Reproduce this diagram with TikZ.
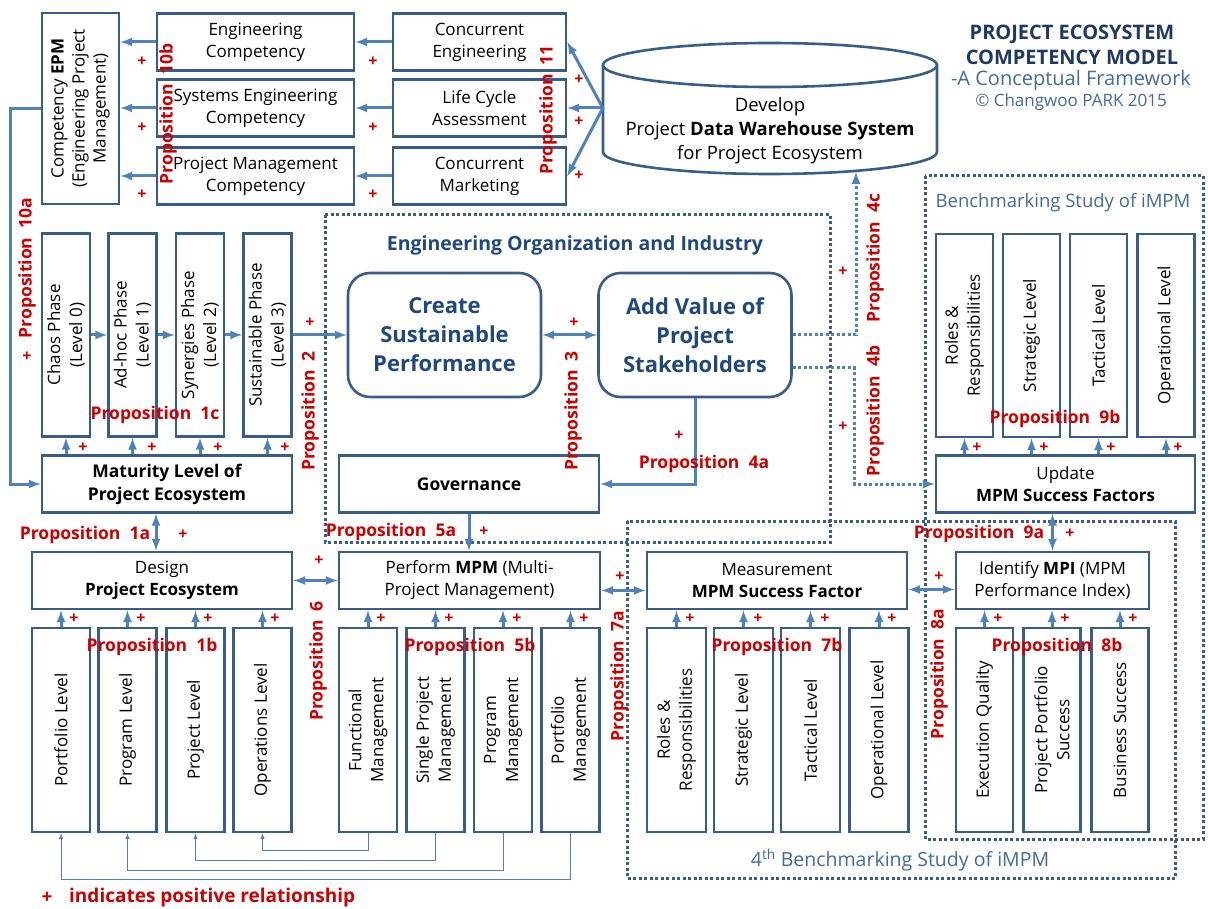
\documentclass[tikz,border=0pt]{standalone}
\usepackage{fontspec}
\setmainfont{Open Sans}
\usetikzlibrary{calc}

\definecolor{boxblue}{RGB}{56,93,138}
\definecolor{arrblue}{RGB}{79,129,189}
\definecolor{propred}{RGB}{204,0,0}
\definecolor{titleblue}{RGB}{31,56,100}
\definecolor{orgblue}{RGB}{31,73,125}
\definecolor{benchblue}{RGB}{68,105,158}

\tikzset{
  box/.style={draw=boxblue, line width=2.6pt, fill=white, align=center, inner sep=1pt,
    font=\fontsize{17}{22}\selectfont},
  topbox/.style={box, minimum height=57pt},
  widebox/.style={box, minimum width=260pt, minimum height=57pt},
  vbox/.style={box, rotate=90},
  rbox/.style={box, rounded corners=22pt, minimum width=193pt, minimum height=124pt,
    text=orgblue, font=\bfseries\fontsize{22}{29}\selectfont},
  prop/.style={text=propred, font=\bfseries\fontsize{17.5}{20}\selectfont, inner sep=0pt},
  plus/.style={text=propred, font=\bfseries\fontsize{16}{16}\selectfont, inner sep=0pt},
  arr/.style={draw=arrblue, line width=3pt, -latex},
  darr/.style={draw=arrblue, line width=3pt, latex-latex},
  fbline/.style={draw=arrblue, line width=0.9pt, -latex},
  dotline/.style={draw=boxblue, line width=3pt, dash pattern=on 3pt off 2.5pt},
  dotarr/.style={draw=arrblue, line width=3pt, dash pattern=on 3pt off 2.5pt, -latex},
}

\begin{document}
\begin{tikzpicture}[x=1pt,y=-1pt]
    \useasboundingbox (0,0) rectangle (1208,909);

    \draw[dotline] (325,215) rectangle (830,542);
    \draw[dotline] (925,176) rectangle (1203,839);
    \draw[dotline] (627,521) rectangle (1175,878);

    \node[vbox, minimum width=191pt, minimum height=77pt, font=\fontsize{17}{21}\selectfont] at (80.5,108.5) (epm) {Competency \textbf{EPM}\\(Engineering Project\\Management)};
    \node[topbox, minimum width=197pt] at (255.5,42) (engcomp) {Engineering\\Competency};
    \node[topbox, minimum width=197pt] at (255.5,108) (secomp) {Systems Engineering\\Competency};
    \node[topbox, minimum width=197pt] at (255.5,176) (pmcomp) {Project Management\\Competency};
    \node[topbox, minimum width=173pt] at (479.5,42) (conceng) {Concurrent\\Engineering};
    \node[topbox, minimum width=173pt] at (479.5,108) (lca) {Life Cycle\\Assessment};
    \node[topbox, minimum width=173pt] at (479.5,176) (concmkt) {Concurrent\\Marketing};
    \node[minimum width=334pt, minimum height=131pt] at (770,108) (dws) {};
    \draw[draw=boxblue, line width=2.6pt, fill=white] (603,65) -- (603,152)
      arc[start angle=180, end angle=360, x radius=167pt, y radius=22pt] -- (937,65);
    \draw[draw=boxblue, line width=2.6pt, fill=white] (770,65) ellipse [x radius=167pt, y radius=22pt];
    \node[align=center, font=\fontsize{18.5}{24}\selectfont] at (770,131) (dwstext) {Develop\\Project \textbf{Data Warehouse System}\\for Project Ecosystem};
    \coordinate (dwsfoot) at (856,172);

    \node[align=center, text=titleblue, font=\bfseries\fontsize{20}{25}\selectfont] at (1072,44.5) (title) {PROJECT ECOSYSTEM\\COMPETENCY MODEL};
    \node[text=benchblue, font=\fontsize{20}{22}\selectfont] at (1071,80) (subtitle) {-A Conceptual Framework};
    \node[text=benchblue, font=\fontsize{17}{19}\selectfont] at (1071,102) (credit) {\textcopyright\ Changwoo PARK 2015};

    \node[vbox, minimum width=203pt, minimum height=48pt] at (66,335) (chaos) {Chaos Phase\\(Level 0)};
    \node[vbox, minimum width=203pt, minimum height=48pt] at (132.5,335) (adhoc) {Ad-hoc Phase\\(Level 1)};
    \node[vbox, minimum width=203pt, minimum height=48pt] at (200,335) (synergy) {Synergies Phase\\(Level 2)};
    \node[vbox, minimum width=203pt, minimum height=48pt] at (267.5,335) (sustain) {Sustainable Phase\\(Level 3)};
    \node[widebox, minimum width=250pt, font=\bfseries\fontsize{17.5}{23}\selectfont] at (167,484) (mat) {Maturity Level of\\Project Ecosystem};

    \node[font=\bfseries\fontsize{19.5}{22}\selectfont, text=orgblue] at (575,245) (orgtitle) {Engineering Organization and Industry};
    \node[rbox] at (444.5,335) (csp) {Create\\Sustainable\\Performance};
    \node[rbox] at (695,335) (avps) {Add Value of\\Project\\Stakeholders};
    \node[widebox, font=\bfseries\fontsize{17.5}{22}\selectfont] at (469,484) (gov) {Governance};

    \node[text=benchblue, font=\fontsize{18.5}{21}\selectfont] at (1063,203) (benchtitle) {Benchmarking Study of iMPM};
    \node[vbox, minimum width=203pt, minimum height=57pt] at (964.5,335.5) (roles1) {Roles \&\\Responsibilities};
    \node[vbox, minimum width=203pt, minimum height=57pt] at (1031.5,335.5) (strat1) {Strategic Level};
    \node[vbox, minimum width=203pt, minimum height=57pt] at (1098.5,335.5) (tact1) {Tactical Level};
    \node[vbox, minimum width=203pt, minimum height=57pt] at (1166,335.5) (oper1) {Operational Level};
    \node[widebox, minimum width=259pt] at (1065.5,484) (upd) {Update\\\textbf{MPM Success Factors}};

    \node[widebox] at (162,580.5) (design) {Design\\\textbf{Project Ecosystem}};
    \node[vbox, minimum width=204pt, minimum height=58pt] at (61,730) (pfl) {Portfolio Level};
    \node[vbox, minimum width=204pt, minimum height=58pt] at (127.5,730) (prgl) {Program Level};
    \node[vbox, minimum width=204pt, minimum height=58pt] at (195.5,730) (prjl) {Project Level};
    \node[vbox, minimum width=204pt, minimum height=58pt] at (262.5,730) (opsl) {Operations Level};

    \node[widebox, minimum width=261pt] at (469.5,580.5) (mpm) {Perform \textbf{MPM} (Multi-\\Project Management)};
    \node[vbox, minimum width=204pt, minimum height=58pt] at (368,730) (fm) {Functional\\Management};
    \node[vbox, minimum width=204pt, minimum height=58pt] at (435.5,730) (spm) {Single Project\\Management};
    \node[vbox, minimum width=204pt, minimum height=58pt] at (503,730) (pgm) {Program\\Management};
    \node[vbox, minimum width=204pt, minimum height=58pt] at (570.5,730) (pfm) {Portfolio\\Management};

    \node[widebox] at (777,580.5) (meas) {Measurement\\\textbf{MPM Success Factor}};
    \node[vbox, minimum width=204pt, minimum height=59pt] at (676.5,730) (roles2) {Roles \&\\Responsibilities};
    \node[vbox, minimum width=204pt, minimum height=59pt] at (743.5,730) (strat2) {Strategic Level};
    \node[vbox, minimum width=204pt, minimum height=59pt] at (810.5,730) (tact2) {Tactical Level};
    \node[vbox, minimum width=204pt, minimum height=59pt] at (879,730) (oper2) {Operational Level};

    \node[widebox, minimum width=193pt] at (1052.5,580.5) (mpi) {Identify \textbf{MPI} (MPM\\Performance Index)};
    \node[vbox, minimum width=204pt, minimum height=57pt] at (984.5,730) (eq) {Execution Quality};
    \node[vbox, minimum width=204pt, minimum height=57pt] at (1052,730) (pps) {Project Portfolio\\Success};
    \node[vbox, minimum width=204pt, minimum height=57pt] at (1120,730) (bs) {Business Success};
    \node[text=benchblue, font=\fontsize{19.5}{22}\selectfont] at (900,860) (bench4) {4\textsuperscript{th} Benchmarking Study of iMPM};

    \draw[arr] (conceng.west) -- (engcomp.east);
    \draw[arr] (lca.west) -- (secomp.east);
    \draw[arr] (concmkt.west) -- (pmcomp.east);
    \draw[arr] (engcomp.west) -- (engcomp.west -| epm.south);
    \draw[arr] (secomp.west) -- (secomp.west -| epm.south);
    \draw[arr] (pmcomp.west) -- (pmcomp.west -| epm.south);
    \draw[arr] (dws.west) -- (conceng.east);
    \draw[arr] (dws.west) -- (lca.east);
    \draw[arr] (dws.west) -- (concmkt.east);
    \draw[arr] (epm.north) -- ++(-30,0) |- (mat.west);

    \draw[arr] (chaos.south) -- (adhoc.north);
    \draw[arr] (adhoc.south) -- (synergy.north);
    \draw[arr] (synergy.south) -- (sustain.north);
    \draw[arr] (mat.north -| chaos.west) -- (chaos.west);
    \draw[arr] (mat.north -| adhoc.west) -- (adhoc.west);
    \draw[arr] (mat.north -| synergy.west) -- (synergy.west);
    \draw[arr] (mat.north -| sustain.west) -- (sustain.west);
    \draw[arr] (sustain.south) -- (sustain.south -| csp.west);
    \draw[darr] (csp.east) -- (avps.west);
    \draw[arr] (avps.south) |- (gov.east);
    \draw[arr] (gov.south) -- (gov.south |- mpm.north);
    \draw[dotarr] (avps.east) -| (dwsfoot);
    \draw[dotarr] ($(avps.east)+(0,33)$) -| ($(upd.west)+(-80,0)$) -- (upd.west);

    \draw[arr] (upd.north -| roles1.west) -- (roles1.west);
    \draw[arr] (upd.north -| strat1.west) -- (strat1.west);
    \draw[arr] (upd.north -| tact1.west) -- (tact1.west);
    \draw[arr] (upd.north -| oper1.west) -- (oper1.west);
    \draw[darr] (upd.south -| mpi.north) -- (mpi.north);

    \draw[darr] ([xshift=-11pt]mat.south) -- ([xshift=-11pt]mat.south |- design.north);
    \draw[darr] (design.east) -- (mpm.west);
    \draw[darr] ([yshift=-10pt]mpm.east) -- ([yshift=-10pt]meas.west);
    \draw[darr] ([yshift=-9pt]meas.east) -- ([yshift=-9pt]mpi.west);

    \draw[arr] (pfl.east) -- (pfl.east |- design.south);
    \draw[arr] (prgl.east) -- (prgl.east |- design.south);
    \draw[arr] (prjl.east) -- (prjl.east |- design.south);
    \draw[arr] (opsl.east) -- (opsl.east |- design.south);
    \draw[arr] (fm.east) -- (fm.east |- mpm.south);
    \draw[arr] (spm.east) -- (spm.east |- mpm.south);
    \draw[arr] (pgm.east) -- (pgm.east |- mpm.south);
    \draw[arr] (pfm.east) -- (pfm.east |- mpm.south);
    \draw[arr] (roles2.east) -- (roles2.east |- meas.south);
    \draw[arr] (strat2.east) -- (strat2.east |- meas.south);
    \draw[arr] (tact2.east) -- (tact2.east |- meas.south);
    \draw[arr] (oper2.east) -- (oper2.east |- meas.south);
    \draw[arr] (eq.east) -- (eq.east |- mpi.south);
    \draw[arr] (pps.east) -- (pps.east |- mpi.south);
    \draw[arr] (bs.east) -- (bs.east |- mpi.south);

    \draw[fbline] (fm.west) -- ++(0,17) -| (opsl.west);
    \draw[fbline] (spm.west) -- ++(0,27) -| (prjl.west);
    \draw[fbline] (pgm.west) -- ++(0,37) -| (prgl.west);
    \draw[fbline] (pfm.west) -- ++(0,46) -| (pfl.west);

    \node[prop, rotate=90] at (27,268) (p10a) {Proposition~~10a};
    \node[prop, rotate=90] at (168,114) (p10b) {Proposition~~10b};
    \node[prop, rotate=90] at (548,110) (p11) {Proposition~~11};
    \node[prop] at (155,415) (p1c) {Proposition~~1c};
    \node[prop, rotate=90] at (310,411) (p2) {Proposition~~2};
    \node[prop, rotate=90] at (573,411) (p3) {Proposition~~3};
    \node[prop] at (704,464) (p4a) {Proposition~~4a};
    \node[prop, rotate=90] at (875,258) (p4c) {Proposition~~4c};
    \node[prop, rotate=90] at (875,411) (p4b) {Proposition~~4b};
    \node[prop] at (1055,419) (p9b) {Proposition~~9b};
    \node[prop] at (85,535) (p1a) {Proposition~~1a};
    \node[prop] at (391,532) (p5a) {Proposition~~5a};
    \node[prop] at (979,534) (p9a) {Proposition~~9a};
    \node[prop] at (152,647) (p1b) {Proposition~~1b};
    \node[prop] at (470,647) (p5b) {Proposition~~5b};
    \node[prop] at (777,647) (p7b) {Proposition~~7b};
    \node[prop] at (1057,647) (p8b) {Proposition~~8b};
    \node[prop, rotate=90] at (318,661) (p6) {Proposition~~6};
    \node[prop, rotate=90] at (619,676) (p7a) {Proposition~~7a};
    \node[prop, rotate=90] at (939,674) (p8a) {Proposition~~8a};

    \node[plus] at (142,62) (pl1) {+};
    \node[plus] at (142,128) (pl2) {+};
    \node[plus] at (142,195) (pl3) {+};
    \node[plus] at (373,62) (pl4) {+};
    \node[plus] at (373,128) (pl5) {+};
    \node[plus] at (373,195) (pl6) {+};
    \node[plus] at (579,80) (pl7) {+};
    \node[plus] at (579,122) (pl8) {+};
    \node[plus] at (579,176) (pl9) {+};
    \node[plus] at (27,357) (pl10) {+};
    \node[plus] at (83,448) (pl11) {+};
    \node[plus] at (152,448) (pl12) {+};
    \node[plus] at (218,448) (pl13) {+};
    \node[plus] at (285,448) (pl14) {+};
    \node[plus] at (310,323) (pl15) {+};
    \node[plus] at (574,323) (pl16) {+};
    \node[plus] at (679,436) (pl17) {+};
    \node[plus] at (843,272) (pl18) {+};
    \node[plus] at (843,427) (pl19) {+};
    \node[plus] at (977,448) (pl20) {+};
    \node[plus] at (1044,448) (pl21) {+};
    \node[plus] at (1111,448) (pl22) {+};
    \node[plus] at (1178,448) (pl23) {+};
    \node[plus] at (1070,534) (pl24) {+};
    \node[plus] at (183,535) (pl25) {+};
    \node[plus] at (484,532) (pl26) {+};
    \node[plus] at (319,561) (pl27) {+};
    \node[plus] at (620,577) (pl28) {+};
    \node[plus] at (939,577) (pl29) {+};
    \node[plus] at (74,619) (pl30) {+};
    \node[plus] at (141,619) (pl31) {+};
    \node[plus] at (208,619) (pl32) {+};
    \node[plus] at (275,619) (pl33) {+};
    \node[plus] at (381,619) (pl34) {+};
    \node[plus] at (449,619) (pl35) {+};
    \node[plus] at (517,619) (pl36) {+};
    \node[plus] at (584,619) (pl37) {+};
    \node[plus] at (690,619) (pl38) {+};
    \node[plus] at (758,619) (pl39) {+};
    \node[plus] at (825,619) (pl40) {+};
    \node[plus] at (892,619) (pl41) {+};
    \node[plus] at (998,619) (pl42) {+};
    \node[plus] at (1065,619) (pl43) {+};
    \node[plus] at (1133,619) (pl44) {+};

    \node[plus, font=\bfseries\fontsize{19}{19}\selectfont] at (47,898) (legplus) {+};
    \node[prop, anchor=west, font=\bfseries\fontsize{19}{21}\selectfont] at (69,898) (legend) {indicates positive relationship};
\end{tikzpicture}
\end{document}
